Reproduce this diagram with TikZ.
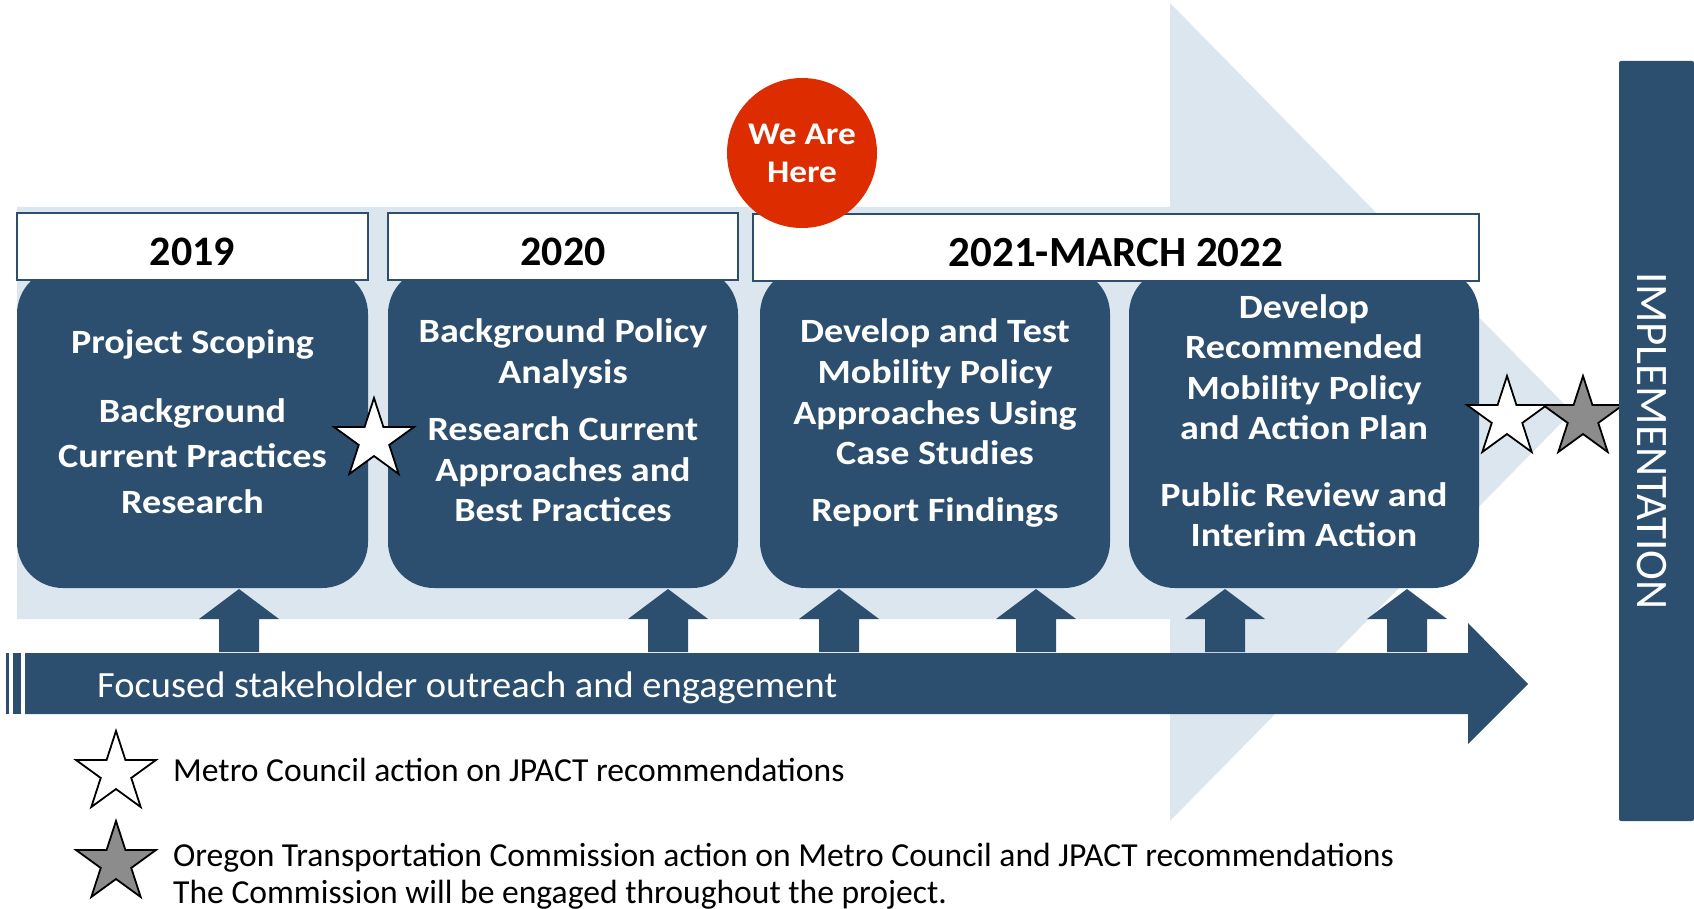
\documentclass[tikz,border=0pt]{standalone}
\usepackage{fontspec}
\setmainfont{Carlito}
\newfontfamily\widefont{Carlito}[FakeStretch=1.12]
\newfontfamily\semiwide{Carlito}[FakeStretch=1.04]
\usetikzlibrary{shapes.geometric}
\definecolor{navy}{RGB}{45,79,111}
\definecolor{pale}{RGB}{220,230,238}
\definecolor{hot}{RGB}{221,44,0}
\definecolor{starg}{RGB}{140,140,140}
\begin{document}
\begin{tikzpicture}[x=1pt,y=-1pt,
  phasebox/.style={draw=none,fill=navy,rounded corners=46pt,minimum width=350pt,minimum height=320pt,inner sep=0pt},
  yearbox/.style={draw=navy,line width=2pt,fill=white,minimum height=67pt,inner sep=0pt,
     font=\fontsize{42}{50}\selectfont\bfseries,text height=37pt,text depth=0pt},
  boxtext/.style={text=white,font=\widefont\fontsize{34}{40}\selectfont\bfseries,inner sep=0pt,anchor=base},
  upshape/.style={fill=navy},
  starw/.style={star,star points=5,star point ratio=2.618,minimum size=84pt,inner sep=0pt,draw=black,line width=1.8pt,fill=white},
  stargr/.style={starw,fill=starg},
  legtext/.style={font=\fontsize{33.6}{40}\selectfont,inner sep=0pt,anchor=base west}
]
\useasboundingbox (0,0) rectangle (1694,909);
% big pale arrow
\fill[pale] (17,207) -- (1170,207) -- (1170,3) -- (1572,412) -- (1170,821) -- (1170,619) -- (17,619) -- cycle;
% phase boxes
\node[phasebox,minimum width=351pt] (b1) at (192.5,428) {};
\node[phasebox] (b2) at (563,428) {};
\node[phasebox] (b3) at (935,428) {};
\node[phasebox] (b4) at (1304,428) {};
% year headers
\node[yearbox,minimum width=351pt] (h1) at (192.5,247) {2019};
\node[yearbox,minimum width=350pt] (h2) at (563,247) {2020};
\node[yearbox,minimum width=726pt,font=\fontsize{43}{50}\selectfont\bfseries] (h3) at (1116,248) {2021-MARCH 2022};
% box texts
\node[boxtext] (t11) at (192.5,353) {Project Scoping};
\node[boxtext] (t12) at (192.5,422) {Background};
\node[boxtext] (t13) at (192.5,467) {Current Practices};
\node[boxtext] (t14) at (192.5,513) {Research};
\node[boxtext] (t21) at (563,342) {Background Policy};
\node[boxtext] (t22) at (563,383) {Analysis};
\node[boxtext] (t23) at (563,440) {Research Current};
\node[boxtext] (t24) at (563,481) {Approaches and};
\node[boxtext] (t25) at (563,521) {Best Practices};
\node[boxtext] (t31) at (935,342) {Develop and Test};
\node[boxtext] (t32) at (935,383) {Mobility Policy};
\node[boxtext] (t33) at (935,424) {Approaches Using};
\node[boxtext] (t34) at (935,464) {Case Studies};
\node[boxtext] (t35) at (935,521) {Report Findings};
\node[boxtext] (t41) at (1304,318) {Develop};
\node[boxtext] (t42) at (1304,358) {Recommended};
\node[boxtext] (t43) at (1304,399) {Mobility Policy};
\node[boxtext] (t44) at (1304,439) {and Action Plan};
\node[boxtext] (t45) at (1304,506) {Public Review and};
\node[boxtext] (t46) at (1304,546) {Interim Action};
% we are here
\node[circle,fill=hot,minimum size=150pt,inner sep=0pt,text=white,align=center,
  font=\widefont\fontsize{31.5}{38}\selectfont\bfseries] (here) at (802,153) {We Are\\Here};
% up arrows
\foreach \x [count=\i] in {239,668,839,1036,1225,1407}{
  \fill[upshape] (\x-20,652) -- (\x-20,619) -- (\x-40,619) -- (\x,589) -- (\x+40,619) -- (\x+20,619) -- (\x+20,652) -- cycle;
}
% stakeholder arrow
\fill[navy] (25,653) -- (1468,653) -- (1468,623) -- (1528,684) -- (1468,744) -- (1468,714) -- (25,714) -- cycle;
\fill[navy] (6,653) rectangle (9,714);
\fill[navy] (13,653) rectangle (21,714);
\node[text=white,font=\semiwide\fontsize{37}{44}\selectfont,inner sep=0pt,anchor=base west] (outreach) at (97,697) {Focused stakeholder outreach and engagement};
% stars on timeline
\node[starw] (s1) at (374,440) {};
\node[starw] (s2) at (1507,418) {};
\node[stargr] (s3) at (1583,418) {};
% implementation bar
\fill[navy,rounded corners=2pt] (1619,61) rectangle (1694,821);
\node[text=white,rotate=-90,font=\fontsize{45}{50}\selectfont,inner sep=0pt] (impl) at (1652,441) {IMPLEMENTATION};
% legend
\node[starw] (l1) at (116,773) {};
\node[stargr] (l2) at (116,863) {};
\node[legtext] (lt1) at (173,781) {Metro Council action on JPACT recommendations};
\node[legtext] (lt2) at (173,866) {Oregon Transportation Commission action on Metro Council and JPACT recommendations};
\node[legtext] (lt3) at (173,903) {The Commission will be engaged throughout the project.};
\end{tikzpicture}
\end{document}
